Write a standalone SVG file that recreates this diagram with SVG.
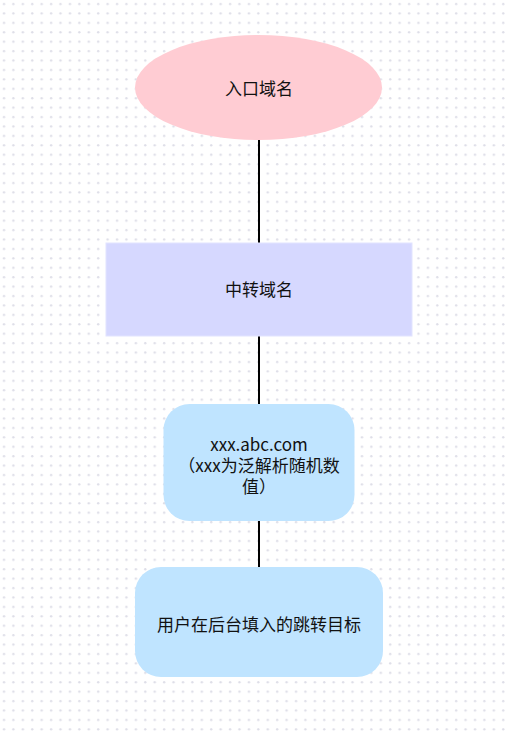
<svg xmlns="http://www.w3.org/2000/svg" width="505" height="736" viewBox="0 0 505 736">
<defs>
<pattern id="dots" x="0" y="0" width="9.42" height="9.42" patternUnits="userSpaceOnUse">
<circle cx="4" cy="4" r="1.2" fill="#dedee8"/>
</pattern>
<style>
.t{font-family:"Noto Sans CJK SC","Noto Sans",sans-serif;font-size:17px;fill:#111;text-anchor:middle}
.c{stroke:#000;stroke-width:2;fill:none}
</style>
</defs>
<rect x="0" y="0" width="505" height="736" fill="#fff"/>
<rect x="0" y="0" width="505" height="736" fill="url(#dots)"/>
<g id="connectors">
<line class="c" x1="259" y1="140" x2="259" y2="243"/>
<line class="c" x1="259" y1="336" x2="259" y2="404"/>
<line class="c" x1="259" y1="521" x2="259" y2="567"/>
</g>
<g id="entry">
<ellipse cx="258.5" cy="87.5" rx="123.5" ry="52.5" fill="#ffccd3"/>
<text class="t" x="259" y="95">入口域名</text>
</g>
<g id="relay">
<rect x="106" y="243" width="306" height="93" fill="#d6d8ff" stroke="#e2e4ff" stroke-width="1"/>
<text class="t" x="259" y="296">中转域名</text>
</g>
<g id="wildcard">
<rect x="163.5" y="404" width="191" height="117" rx="26" ry="26" fill="#bfe4ff"/>
<text class="t" x="259" y="451">xxx.abc.com</text>
<text class="t" x="259" y="472">（xxx为泛解析随机数</text>
<text class="t" x="259" y="493">值）</text>
</g>
<g id="target">
<rect x="135" y="567" width="248" height="110" rx="26" ry="26" fill="#bfe4ff"/>
<text class="t" x="259" y="631">用户在后台填入的跳转目标</text>
</g>
</svg>
